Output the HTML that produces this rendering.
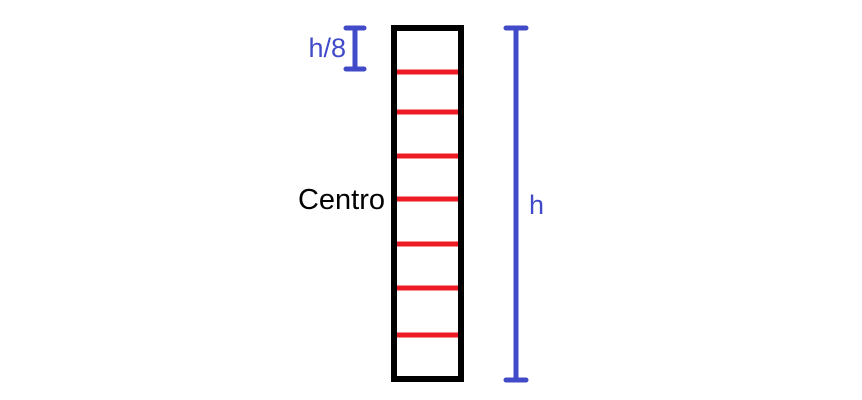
<!DOCTYPE html>
<html><head><meta charset="utf-8"><style>
html,body{margin:0;padding:0;background:#fff;}
svg{display:block;}
text{font-family:"Liberation Sans",sans-serif;}
</style></head><body>
<svg id="chart" width="862" height="400" viewBox="0 0 862 400">
<rect x="394" y="28" width="67" height="351" fill="none" stroke="#000" stroke-width="6"/>
<g id="marks"></g>
<g stroke="#414bc9" stroke-width="5" stroke-linecap="round">
<line x1="355" y1="28" x2="355" y2="69"/>
<line x1="346" y1="28" x2="364" y2="28"/>
<line x1="346" y1="69" x2="364" y2="69"/>
</g>
<g stroke="#414bc9" stroke-width="5" stroke-linecap="round">
<line x1="516" y1="28" x2="516" y2="380"/>
<line x1="506" y1="28" x2="526" y2="28"/>
<line x1="506" y1="380" x2="526" y2="380"/>
</g>
<text x="346" y="57" font-size="27" fill="#414bc9" text-anchor="end">h/8</text>
<text x="529" y="214" font-size="27" fill="#414bc9">h</text>
<text x="385" y="209" font-size="29" fill="#000" text-anchor="end">Centro</text>
</svg>
<script>
const divisionY = [72, 112, 156, 199, 244, 288, 335];
const g = document.getElementById('marks');
divisionY.forEach(function(y){
  const l = document.createElementNS('http://www.w3.org/2000/svg','line');
  l.setAttribute('x1', 397); l.setAttribute('x2', 458);
  l.setAttribute('y1', y); l.setAttribute('y2', y);
  l.setAttribute('stroke', '#ed1c24'); l.setAttribute('stroke-width', 5);
  
  
  g.appendChild(l);
});
</script>
</body></html>
